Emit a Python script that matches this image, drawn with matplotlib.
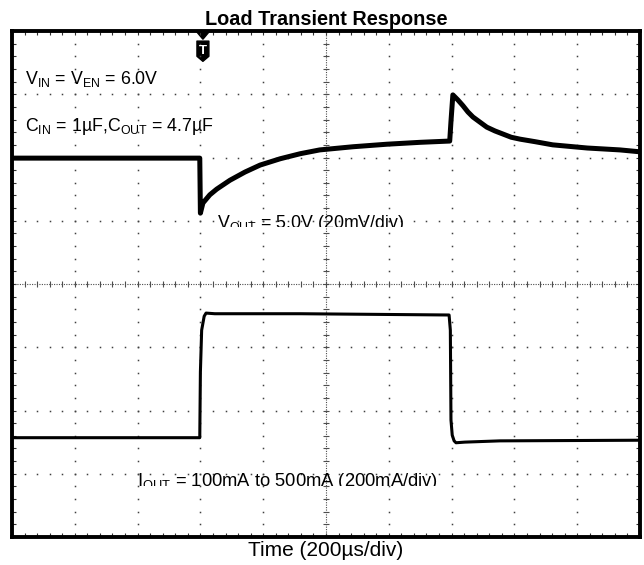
import numpy as np
import matplotlib
matplotlib.use("Agg")
import matplotlib.pyplot as plt
from matplotlib.patches import Polygon
from matplotlib.transforms import Bbox, TransformedBbox
from matplotlib.ticker import MultipleLocator

plt.rcParams["font.family"] = ["Liberation Sans", "DejaVu Sans"]
plt.rcParams["mathtext.default"] = "regular"

# scope screen, in divisions (10 x 8)
vout_x = [0, 2.99, 3.0, 3.04, 3.15, 3.26, 3.47, 3.71, 3.95, 4.27, 4.59, 4.90,
          5.43, 5.97, 6.50, 6.97, 6.99, 7.02, 7.04, 7.10, 7.18, 7.26, 7.34,
          7.45, 7.56, 7.69, 7.82, 7.95, 8.09, 8.33, 8.61, 9.16, 9.68, 10.0]
vout_y = [5.99, 5.99, 5.12, 5.28, 5.41, 5.50, 5.64, 5.77, 5.88, 5.98, 6.06,
          6.12, 6.17, 6.21, 6.24, 6.26, 6.57, 6.99, 6.97, 6.91, 6.82, 6.72,
          6.64, 6.56, 6.48, 6.42, 6.37, 6.32, 6.29, 6.25, 6.20, 6.15, 6.12,
          6.09]

iout_x = [0, 2.99, 3.00, 3.02, 3.06, 3.09, 3.23, 4.59, 6.96, 6.98, 6.99,
          7.01, 7.04, 7.07, 7.21, 7.77, 10.0]
iout_y = [1.57, 1.57, 2.61, 3.27, 3.49, 3.54, 3.53, 3.53, 3.51, 3.27, 1.85,
          1.61, 1.52, 1.49, 1.50, 1.52, 1.53]

n_xdiv = 10
n_ydiv = 8

fig = plt.figure(figsize=(6.44, 5.65), dpi=100)
ax = fig.add_axes([12 / 644, 28 / 565, 628 / 644, 506 / 565])
ax.set_xlim(0, n_xdiv)
ax.set_ylim(0, n_ydiv)

# graticule
sub = np.arange(0, n_xdiv + 0.01, 0.2)
sub_y = np.arange(0, n_ydiv + 0.01, 0.2)
for gx in range(1, n_xdiv):
    if gx == n_xdiv // 2:
        continue
    ax.plot([gx] * len(sub_y), sub_y, ls="none", marker="s", ms=1.1,
            color="0.25", mew=0)
for gy in range(1, n_ydiv):
    if gy == n_ydiv // 2:
        continue
    ax.plot(sub, [gy] * len(sub), ls="none", marker="s", ms=1.1,
            color="0.25", mew=0)

# center cross with ticks
ax.axvline(n_xdiv / 2, color="0.3", lw=0.8, ls=(0, (1, 1.2)))
ax.axhline(n_ydiv / 2, color="0.3", lw=0.8, ls=(0, (1, 1.2)))
ax.plot([n_xdiv / 2] * len(sub_y), sub_y, ls="none", marker="_", ms=5,
        color="0.3", mew=0.8)
ax.plot(sub, [n_ydiv / 2] * len(sub), ls="none", marker="|", ms=5,
        color="0.3", mew=0.8)

# traces
ax.plot(vout_x, vout_y, color="black", lw=3.6, solid_joinstyle="round")
ax.plot(iout_x, iout_y, color="black", lw=2.2, solid_joinstyle="round")

# labels
ax.text(0.21, 7.16, "V$_{IN}$ = V$_{EN}$ = 6.0V", fontsize=12.8)
ax.text(0.21, 6.42, "C$_{IN}$ = 1µF,C$_{OUT}$ = 4.7µF", fontsize=12.8)

# channel labels are cut off at the bottom like on the scope capture
t1 = ax.text(3.26, 4.89, "V$_{OUT}$ = 5.0V (20mV/div)", fontsize=12.8,
             clip_on=True)
t1.set_clip_box(TransformedBbox(Bbox([[0, 4.905], [n_xdiv, n_ydiv]]),
                                ax.transData))
t2 = ax.text(1.99, 0.80, "I$_{OUT}$ = 100mA to 500mA (200mA/div)",
             fontsize=13.2, clip_on=True)
t2.set_clip_box(TransformedBbox(Bbox([[0, 0.81], [n_xdiv, 2.0]]),
                                ax.transData))

# trigger marker
trig = 3.04
ax.add_patch(Polygon([[trig - 0.11, 8.0], [trig + 0.11, 8.0], [trig, 7.87]],
                     closed=True, color="black", clip_on=False))
ax.add_patch(Polygon([[trig - 0.095, 7.84], [trig + 0.095, 7.84],
                      [trig + 0.095, 7.6], [trig, 7.52], [trig - 0.095, 7.6]],
                     closed=True, color="black", clip_on=False,
                     joinstyle="round", lw=1))
ax.text(trig, 7.69, "T", color="white", fontsize=9.5, fontweight="bold",
        ha="center", va="center")

ax.xaxis.set_major_locator(MultipleLocator(0.2))
ax.yaxis.set_major_locator(MultipleLocator(0.2))
ax.tick_params(which="both", direction="in", length=3, width=0.8,
               top=True, right=True, labelbottom=False, labelleft=False,
               color="0.2")
for s in ax.spines.values():
    s.set_linewidth(2.8)

ax.set_title("Load Transient Response", fontsize=14.3, fontweight="bold",
             pad=4)
ax.set_xlabel("Time (200µs/div)", fontsize=15, labelpad=3)

fig.savefig("out.png", dpi=100)
